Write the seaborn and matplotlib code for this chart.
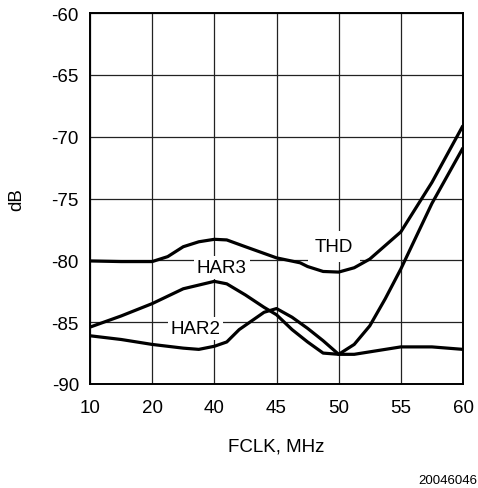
import numpy as np
import pandas as pd
import matplotlib
matplotlib.use("Agg")
import matplotlib.pyplot as plt
import seaborn as sns

# ---- data ----
tick_mhz = [10, 20, 40, 45, 50, 55, 60]
y_ticks = [-60, -65, -70, -75, -80, -85, -90]

thd_x = [10, 15, 20, 25, 30, 35, 40, 41, 42.5, 45, 46.9, 47.5, 48.75, 50, 51.25, 52.5, 53.75, 55, 57.5, 60]
thd_y = [-80.05, -80.1, -80.1, -79.7, -78.9, -78.5, -78.3, -78.35, -78.9, -79.8, -80.2, -80.5, -80.9, -80.95, -80.6, -79.9, -78.8, -77.7, -73.7, -69.1]

har3_x = [10, 15, 20, 30, 40, 41, 42.5, 44, 45, 46.25, 47.5, 48.75, 50, 51.25, 52.5, 55, 57.5, 60]
har3_y = [-85.4, -84.5, -83.5, -82.3, -81.7, -81.9, -82.8, -83.8, -84.4, -85.6, -86.6, -87.5, -87.6, -87.6, -87.4, -87.0, -87.0, -87.2]

har2_x = [10, 15, 20, 30, 35, 40, 41, 42, 43, 44, 45, 46.25, 47.5, 48.75, 50, 51.25, 52.5, 53.75, 55, 57.5, 60]
har2_y = [-86.1, -86.4, -86.8, -87.1, -87.2, -86.95, -86.6, -85.6, -84.9, -84.2, -83.9, -84.6, -85.5, -86.5, -87.6, -86.8, -85.3, -83.1, -80.7, -75.4, -70.9]

series_names = ["THD", "HAR3", "HAR2"]

df = pd.concat([
    pd.DataFrame({"FCLK": thd_x, "dB": thd_y, "curve": "THD"}),
    pd.DataFrame({"FCLK": har3_x, "dB": har3_y, "curve": "HAR3"}),
    pd.DataFrame({"FCLK": har2_x, "dB": har2_y, "curve": "HAR2"}),
], ignore_index=True)

# ---- style ----
sns.set_theme(style="white")
plt.rcParams["font.family"] = ["Liberation Sans", "DejaVu Sans"]
plt.rcParams["text.color"] = "black"

FS = 13.5
W, H = 478, 489
fig = plt.figure(figsize=(W / 100, H / 100), dpi=100)
ax = fig.add_axes([90 / W, 1 - 385 / H, (463 - 90) / W, (385 - 14) / H])

idx = np.arange(len(tick_mhz), dtype=float)
def fwd(x):
    return np.interp(x, tick_mhz, idx)
def inv(p):
    return np.interp(p, idx, tick_mhz)
ax.set_xscale("function", functions=(fwd, inv))

sns.lineplot(data=df, x="FCLK", y="dB", hue="curve", hue_order=series_names,
             palette=["black"] * 3, estimator=None, sort=False, legend=False,
             linewidth=2.3, ax=ax, zorder=3)
for ln in ax.get_lines():
    ln.set_solid_joinstyle("round")
    ln.set_solid_capstyle("butt")

ax.set_xlim(10, 60)
ax.set_ylim(-90, -60)
ax.set_xticks(tick_mhz)
ax.set_xticklabels([str(t) for t in tick_mhz])
ax.set_yticks(y_ticks)
ax.set_yticklabels([str(t) for t in y_ticks])
ax.minorticks_off()

ax.grid(True, color="#222222", linewidth=0.9)
ax.set_axisbelow(True)
for s in ax.spines.values():
    s.set_color("black")
    s.set_linewidth(1.4)

ax.tick_params(axis="both", length=0, labelsize=FS, colors="black")
ax.tick_params(axis="x", pad=11)
ax.tick_params(axis="y", pad=8)
ax.set_xlabel("")
ax.set_ylabel("")

# labels
fig.text(276 / W, 1 - 447 / H, "FCLK, MHz", ha="center", va="center", fontsize=FS, color="black")
fig.text(17 / W, 1 - 200 / H, "dB", ha="center", va="center", rotation=90, fontsize=FS, color="black")
fig.text(477 / W, 1 - 481 / H, "20046046", ha="right", va="center", fontsize=9.5, color="black")

box = dict(facecolor="white", edgecolor="none", pad=2)
ax.text(40.6, -80.6, "HAR3", ha="center", va="center", fontsize=FS, color="black", bbox=box, zorder=4)
ax.text(34.0, -85.5, "HAR2", ha="center", va="center", fontsize=FS, color="black", bbox=box, zorder=4)
ax.text(49.6, -78.9, "THD", ha="center", va="center", fontsize=FS, color="black",
        bbox=dict(facecolor="white", edgecolor="none", pad=5), zorder=4)

fig.savefig("out.png", dpi=100)
